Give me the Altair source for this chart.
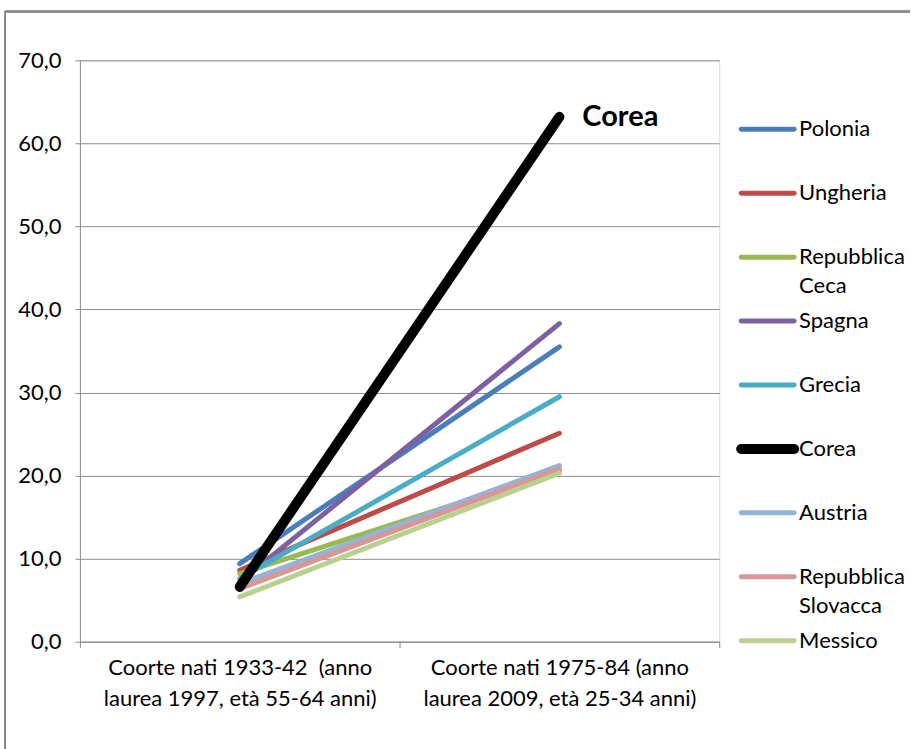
import altair as alt
import pandas as pd

# Laureati per coorte: quota (%) nelle due coorti di nascita
countries = ["Polonia", "Ungheria", "Repubblica Ceca", "Spagna", "Grecia",
             "Corea", "Austria", "Repubblica Slovacca", "Messico"]
legend_labels = ["Polonia", "Ungheria", "Repubblica|Ceca", "Spagna", "Grecia",
                 "Corea", "Austria", "Repubblica|Slovacca", "Messico"]
value_1933_42 = [9.4, 8.6, 8.2, 7.2, 7.6, 6.6, 7.0, 6.4, 5.4]
value_1975_84 = [35.5, 25.1, 20.6, 38.3, 29.5, 63.2, 21.2, 20.8, 20.3]
cohorts = ["Coorte nati 1933-42 \u00a0(anno|laurea 1997, età 55-64 anni)",
           "Coorte nati 1975-84 (anno|laurea 2009, età 25-34 anni)"]
colors = ["#4A7EBB", "#BE4B48", "#98B954", "#7D60A0", "#4BACC6",
          "#000000", "#95B3D7", "#D99694", "#B9D18F"]
widths = [5, 5, 5, 5, 5, 10, 5, 5, 5]

FONT = "Lato"
GRAY = "#8C8C8C"
FS = 22

rows = []
for c, lab, a, b, col, w in zip(countries, legend_labels, value_1933_42,
                                value_1975_84, colors, widths):
    rows.append({"series": c, "label": lab, "cohort": cohorts[0], "value": a,
                 "color": col, "w": w})
    rows.append({"series": c, "label": lab, "cohort": cohorts[1], "value": b,
                 "color": col, "w": w})
df = pd.DataFrame(rows)
legend_df = pd.DataFrame({"series": countries, "label": legend_labels,
                          "color": colors, "w": widths})

x_enc = alt.X(
    "cohort:N", sort=cohorts,
    scale=alt.Scale(type="band", paddingInner=0, paddingOuter=0),
    axis=alt.Axis(title=None, labelAngle=0, tickBand="extent", grid=False,
                  labelExpr="split(datum.label, '|')", labelFontSize=FS,
                  labelLineHeight=31, labelPadding=10, labelFont=FONT,
                  labelLimit=400, labelColor="#000000", tickSize=6,
                  tickColor=GRAY, domainColor=GRAY),
)
y_scale = alt.Scale(domain=[0, 70], nice=False, zero=True)
y_axis = alt.Axis(title=None, values=list(range(0, 80, 10)),
                  labelExpr="replace(format(datum.value, '.1f'), '.', ',')",
                  grid=True, gridColor=GRAY, tickSize=5, tickColor=GRAY,
                  domainColor=GRAY, labelFontSize=FS, labelFont=FONT,
                  labelColor="#000000", labelPadding=14)

base = alt.Chart(df)

lines = base.transform_filter(alt.datum.series != "Corea").mark_line(
    strokeCap="round", strokeJoin="round"
).encode(
    x=x_enc,
    y=alt.Y("value:Q", scale=y_scale, axis=y_axis),
    detail="series:N",
    color=alt.Color("color:N", scale=None),
    strokeWidth=alt.StrokeWidth("w:Q", scale=None),
)

corea = base.transform_filter(alt.datum.series == "Corea").mark_line(
    strokeCap="round", strokeJoin="round"
).encode(
    x=x_enc,
    y=alt.Y("value:Q", scale=y_scale, axis=None),
    color=alt.Color("color:N", scale=None),
    strokeWidth=alt.StrokeWidth("w:Q", scale=None),
)

corea_label = base.transform_filter(
    (alt.datum.series == "Corea") & (alt.datum.cohort == cohorts[1])
).mark_text(align="left", baseline="middle", dx=23, fontSize=29,
            fontWeight="bold", font=FONT, color="#000000").encode(
    x=x_enc,
    y=alt.Y("value:Q", scale=y_scale, axis=None),
    text="series:N",
)

legend_y = alt.Y("series:N", sort=countries, axis=None,
                 scale=alt.Scale(type="point", range=[69, 581], padding=0))

legend_lines = alt.Chart(legend_df).mark_rule(strokeCap="round").encode(
    x=alt.value(662), x2=alt.value(715),
    y=legend_y,
    color=alt.Color("color:N", scale=None),
    strokeWidth=alt.StrokeWidth("w:Q", scale=None),
)

legend_text = alt.Chart(legend_df).mark_text(
    align="left", baseline="middle", fontSize=FS, font=FONT,
    color="#000000", lineBreak="|", lineHeight=29,
).encode(
    x=alt.value(720),
    y=legend_y,
    text="label:N",
)

# outer frame of the chart area (left and top edges)
frame_left = alt.Chart(legend_df).mark_rule(color=GRAY, strokeWidth=1.5).encode(
    x=alt.value(-75), y=alt.value(-49), y2=alt.value(689))
frame_top = alt.Chart(legend_df).mark_rule(color=GRAY, strokeWidth=1.5).encode(
    x=alt.value(-75), x2=alt.value(831), y=alt.value(-49))

chart = alt.layer(
    lines, corea, corea_label, legend_lines, legend_text, frame_left, frame_top
).resolve_scale(y="independent").properties(
    width=640, height=582,
    padding={"left": 4, "top": 10, "right": 0, "bottom": 0},
).configure_view(stroke=None).configure(background="#FFFFFF")

chart.save("out.html", embed_options={"renderer": "svg", "actions": False})
